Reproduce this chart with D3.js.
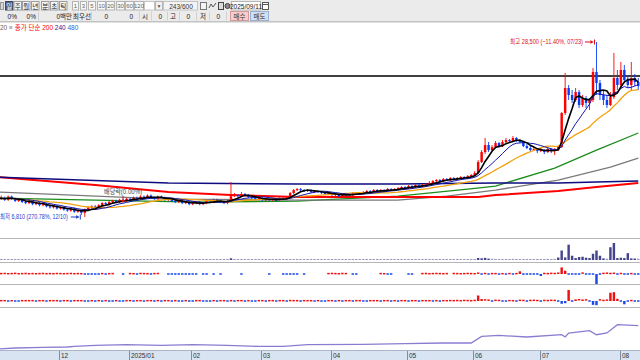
<!DOCTYPE html>
<html>
<head>
<meta charset="utf-8">
<script src="https://cdn.jsdelivr.net/npm/d3@7"></script>
<style>
body { margin: 0; background: #fff; overflow: hidden; }
svg { display: block; }
text { font-family: "Liberation Sans", "Noto Sans CJK KR", sans-serif; }
</style>
</head>
<body>
<div id="vis"></div>
<script>
// daily candles, Nov 2024 .. Aug 2025 (won)
const opens = [
  8940,9070,9200,8940,9340,9070,8800,8940,8670,8530,
  8800,8400,8530,8270,8400,8130,8000,8130,7860,8000,
  7730,7600,7860,7460,7600,7330,7730,8000,8130,8000,
  8270,8530,8400,8670,8800,8670,8940,8800,9070,8940,
  9200,9070,9340,9200,9470,9200,9070,9340,9200,8940,
  9070,8800,8670,8800,8530,8670,8400,8530,8670,8400,
  8530,8800,8670,8940,8800,8670,8530,8800,9400,9530,
  9400,9650,9530,9280,9160,9030,9160,8910,9030,8910,
  9030,8910,9160,9030,9280,9780,10150,10270,10150,10020,
  10150,9900,10020,9900,9780,9650,9780,9530,9650,9400,
  9530,9650,9530,9780,9650,9780,9900,10020,9900,10150,
  10020,10150,10020,10270,10150,10270,10400,10520,10400,10640,
  10520,10770,10640,10770,10890,11020,11260,11390,11260,11510,
  11390,11640,11510,11640,11760,11640,11880,12010,12260,13620,
  14860,15730,15110,15480,15980,15600,16100,16350,16220,16600,
  16350,16100,15600,15360,15110,15230,14980,15110,14860,15230,
  14980,15110,15480,19700,22800,21930,21310,22300,20690,21560,
  20940,21310,24780,23420,21930,21310,20690,21680,24040,23170,
  25030,23790,23170,24040,23540
]
const highs = [
  9340,9470,9340,9470,9470,9200,9070,9070,8800,8940,
  8940,8670,8670,8530,8530,8270,8270,8270,8130,8130,
  7860,8000,8000,7730,7730,7860,8130,8270,8270,8400,
  8670,8670,8800,8940,8940,9070,9070,9200,9200,9340,
  9340,9470,9470,9610,9610,9340,9470,9470,9340,9200,
  9200,8940,8940,8940,8800,8800,8670,8800,8800,8670,
  8940,8940,9070,9070,8940,8800,8940,11140,9780,9650,
  9900,9780,9650,9400,9280,9280,9280,9160,9160,9160,
  9160,9280,9280,9400,9900,10270,10400,10400,10270,10270,
  10270,10150,10150,10020,9900,9900,9900,9780,9780,9650,
  9780,9780,9900,9900,9900,10020,10150,10150,10270,10270,
  10270,10270,10400,10400,10400,10520,10640,10640,10770,10770,
  10890,10890,10890,11020,11260,11390,11510,11510,11640,11640,
  11760,11760,11760,11880,11880,12010,12130,12500,13870,15110,
  16600,16100,15730,16220,16100,16350,16600,16470,16840,16720,
  16470,16220,15850,15600,15480,15360,15360,15230,15480,15360,
  15360,15600,19820,24660,23170,22550,22800,22550,21930,21800,
  21560,25280,28500,23790,22550,21930,22300,27140,25030,26020,
  25650,24410,26020,24530,24040
]
const lows = [
  8800,8940,8800,8800,8940,8670,8670,8530,8400,8400,
  8270,8270,8130,8130,8000,7860,7860,7730,7730,7600,
  7460,7460,7330,7330,7060,6810,7600,7860,7730,7860,
  8130,8270,8270,8530,8530,8530,8670,8670,8800,8800,
  8940,8940,9070,9070,9070,8940,8940,9070,8800,8800,
  8670,8530,8530,8400,8400,8270,8270,8400,8270,8270,
  8400,8530,8530,8670,8530,8400,8400,8660,9280,9160,
  9280,9400,9160,9030,8910,8910,8780,8780,8780,8780,
  8780,8780,8910,8910,9160,9650,10020,10020,9900,9900,
  9780,9780,9780,9650,9530,9530,9400,9400,9280,9280,
  9400,9400,9400,9530,9530,9650,9780,9780,9780,9900,
  9900,9900,9900,10020,10020,10150,10270,10270,10270,10400,
  10400,10520,10520,10640,10770,10890,11140,11140,11140,11260,
  11260,11390,11390,11510,11510,11510,11760,11880,12130,13500,
  14610,14860,14980,15360,15360,15480,15850,15980,16100,16100,
  15980,15480,15230,14860,14980,14740,14860,14610,14740,14740,
  14490,14980,15360,19450,21310,20940,21060,20320,20440,20320,
  20070,21060,21930,21310,20690,20320,20560,21430,22550,22800,
  23540,22800,22550,23040,22550
]
const closes = [
  9070,9200,8940,9340,9070,8800,8940,8670,8530,8800,
  8400,8530,8270,8400,8130,8000,8130,7860,8000,7730,
  7600,7860,7460,7600,7330,7730,8000,8130,8000,8270,
  8530,8400,8670,8800,8670,8940,8800,9070,8940,9200,
  9070,9340,9200,9470,9200,9070,9340,9200,8940,9070,
  8800,8670,8800,8530,8670,8400,8530,8670,8400,8530,
  8800,8670,8940,8800,8670,8530,8800,9400,9530,9400,
  9650,9530,9280,9160,9030,9160,8910,9030,8910,9030,
  8910,9160,9030,9280,9780,10150,10270,10150,10020,10150,
  9900,10020,9900,9780,9650,9780,9530,9650,9400,9530,
  9650,9530,9780,9650,9780,9900,10020,9900,10150,10020,
  10150,10020,10270,10150,10270,10400,10520,10400,10640,10520,
  10770,10640,10770,10890,11020,11260,11390,11260,11510,11390,
  11640,11510,11640,11760,11640,11880,12010,12260,13620,14860,
  15730,15110,15480,15980,15600,16100,16350,16220,16600,16350,
  16100,15600,15360,15110,15230,14980,15110,14860,15230,14980,
  15110,15480,19700,22800,21930,21310,22300,20690,21560,20940,
  21310,24780,23420,21930,21310,20690,21680,24040,23170,25030,
  23790,23170,24040,23540,23040
]
// volume, thousand shares
const volumes = [
  210,180,160,230,190,170,150,200,180,160,
  170,190,150,160,210,180,170,160,190,220,
  200,180,230,190,260,380,250,200,180,170,
  190,160,150,170,180,160,200,170,150,160,
  180,170,160,190,170,150,160,180,170,160,
  150,170,160,150,180,160,170,150,160,170,
  160,150,170,180,160,150,170,520,260,200,
  180,160,150,170,160,150,140,160,150,170,
  160,150,170,190,280,250,220,180,170,160,
  150,160,170,150,160,140,150,160,150,140,
  150,160,140,150,160,150,170,160,150,160,
  170,160,150,160,170,180,170,160,190,180,
  200,210,230,350,320,280,260,240,250,220,
  230,220,210,240,230,260,250,300,600,520,
  650,420,360,330,300,280,310,290,340,320,
  300,290,260,250,240,230,250,260,320,300,
  340,760,2900,800,4700,1300,600,900,1000,700,
  600,1900,2900,1300,500,400,3900,5200,600,700,
  600,2100,500,450,400
]
// net buying indicator (third pane), null = no trade data
const netA = [
  null,4,5,3,4,6,3,4,5,3,
  4,3,4,5,3,4,3,5,4,3,
  4,5,3,4,3,-4,-3,-5,-3,-3,
  4,-4,3,4,null,null,-4,null,4,3,
  -4,5,4,3,-3,4,5,null,null,-3,
  -4,-3,-4,-3,-4,-3,-3,-4,null,-3,
  -4,null,-3,null,-4,null,null,null,null,null,
  -3,null,null,null,null,null,null,null,-4,null,
  null,null,-3,-4,-3,-4,-3,null,-3,null,
  null,null,null,null,null,4,5,4,3,5,
  4,null,-3,-4,null,null,null,null,null,null,
  4,3,-3,-4,null,null,null,null,-3,-4,
  null,null,4,5,3,4,5,4,3,4,
  null,5,4,3,4,5,4,3,8,-4,
  5,-3,4,4,-4,3,-3,4,-3,4,
  27,-4,-3,-5,-3,-4,-20,5,4,6,
  5,8,66,33,-8,-10,-8,-12,9,-10,
  -12,-6,-100,-8,6,8,5,7,-6,5,
  -5,-7,4,-6,-5
]
// program trading indicator (fourth pane)
const netB = [
  -3,3,3,-3,3,-3,-3,3,3,3,
  3,-3,3,3,-3,3,3,3,-3,3,
  3,-3,3,3,3,-3,-3,3,-3,3,
  -3,3,-3,-3,3,-3,-3,3,3,-3,
  3,3,-3,3,3,-3,3,-3,3,3,
  -3,3,-3,-3,3,-3,-3,3,3,-3,
  -3,-3,3,-3,3,3,-3,3,-3,3,
  3,-3,3,-3,-3,3,3,-3,3,3,
  -3,3,3,-3,4,3,3,-3,3,3,
  3,-3,3,-3,-3,3,3,-3,3,-3,
  3,3,-3,3,3,-3,-3,3,3,3,
  -3,3,3,-3,3,-3,3,3,-3,3,
  3,-3,3,3,3,-3,3,-3,3,3,
  4,3,4,3,5,4,3,5,50,18,
  10,8,-5,6,5,-4,-6,4,3,-5,
  6,5,-4,5,6,4,-5,5,4,6,
  5,-8,-25,-20,100,-10,15,12,14,10,
  -8,-35,-38,10,5,8,75,80,20,-6,
  -30,-10,4,-12,-8
]
// cumulative line in the bottom pane: [bar index, value]
const obvPts = [
  [0,0],[5,1000],[13,1600],[20,2000],[22,2600],[28,3600],[37,4300],[47,3600],
  [56,4300],[66,3600],[75,2600],[82,2600],[89,4300],[105,4600],[117,5300],
  [128,6000],[136,6000],[139,12600],[144,13600],[152,12000],[162,14300],
  [163,12000],[164,16000],[170,18300],[172,14300],[175,16000],[178,24300],[184,23300]
]
// long moving averages: [bar index, price]
const ma60Pts = [[0,9160],[28,8910],[57,8660],[86,8780],[115,9400],[135,10270],[143,10640],[160,12880],[172,15110],[184,17220]]
const ma120Pts = [[0,9900],[49,9030],[86,8910],[115,8910],[129,9400],[143,10150],[161,11390],[176,13000],[184,14120]]
const ma200Pts = [[0,11760],[28,10770],[49,9900],[67,9530],[86,9280],[115,9280],[138,9280],[143,9530],[161,10020],[172,10520],[184,11020]]
const ma240Pts = [[0,11760],[49,11020],[86,10890],[115,10890],[143,11020],[161,11020],[172,11140],[184,11260]]

const monthStarts = [18, 38, 56, 76, 96, 118, 137, 156, 179]
const monthLabels = ["12", "2025/01", "02", "03", "04", "05", "06", "07", "08"]

const lastPrice = 25250
const refLinePrice = 24280
const maxDate = "07/23"
const minDate = "12/10"
const exDivIdx = 36
const exDivText = "배당락(0.00%)"

const periodBtns = ["일", "주", "월", "년", "분", "초", "틱"]
const numBtns = ["1", "3", "5", "10", "20", "30", "60", "120"]

const width = 640, height = 360
const N = closes.length

let svg = d3.select("#vis").append("svg")
    .attr("width", width)
    .attr("height", height)

svg.append("rect").attr("width", width).attr("height", height).attr("fill", "#fff")

// ---------- toolbar ----------
let bar = svg.append("g")
bar.append("rect").attr("width", width).attr("height", 22).attr("fill", "#ebebeb")
bar.append("line").attr("x1", 0).attr("x2", width).attr("y1", 21.5).attr("y2", 21.5).attr("stroke", "#c2c2c2")
bar.append("line").attr("x1", 0).attr("x2", width).attr("y1", 22.5).attr("y2", 22.5).attr("stroke", "#e2e2e2")

// little icon at far left
bar.append("rect").attr("x", 0.5).attr("y", 2.5).attr("width", 3).attr("height", 7).attr("fill", "#d8d8d8").attr("stroke", "#999")

let periodX = [5, 13.5, 22, 31, 41, 50, 59]
periodBtns.forEach((t, i) => {
    let sel = i === 0
    bar.append("rect").attr("x", periodX[i] + 0.5).attr("y", 1.5).attr("width", 7.5).attr("height", 8.5)
        .attr("fill", sel ? "#55627e" : "#f6f6f6").attr("stroke", sel ? "#3c4660" : "#9c9c9c")
    bar.append("text").attr("x", periodX[i] + 4.3).attr("y", 8.6).attr("text-anchor", "middle")
        .style("font-size", "6.5px").attr("fill", sel ? "#fff" : "#222").text(t)
})

let numX = [72, 80, 88, 97, 106, 116, 125, 134]
let numW = [6, 6, 7, 8, 8, 8, 8, 9]
numBtns.forEach((t, i) => {
    bar.append("rect").attr("x", numX[i] + 0.5).attr("y", 1.5).attr("width", numW[i]).attr("height", 8.5)
        .attr("fill", "#f7f7f7").attr("stroke", "#b4b4b4")
    bar.append("text").attr("x", numX[i] + 0.5 + numW[i] / 2).attr("y", 8.4).attr("text-anchor", "middle")
        .style("font-size", "6px").attr("fill", "#666").text(t)
})
bar.append("rect").attr("x", 144.5).attr("y", 1.5).attr("width", 10).attr("height", 8.5).attr("fill", "#fff").attr("stroke", "#c4c4c4")
bar.append("rect").attr("x", 155.5).attr("y", 1.5).attr("width", 7).attr("height", 8.5).attr("fill", "#f2f2f2").attr("stroke", "#b4b4b4")
bar.append("text").attr("x", 159).attr("y", 8).attr("text-anchor", "middle").style("font-size", "5px").attr("fill", "#555").text("▼")
bar.append("rect").attr("x", 163.5).attr("y", 1.5).attr("width", 34).attr("height", 8.5).attr("fill", "#f4f4f4").attr("stroke", "#c4c4c4")
bar.append("text").attr("x", 181).attr("y", 8.5).attr("text-anchor", "middle").style("font-size", "6.5px").attr("fill", "#333").text("243/600")
// small tool icons
bar.append("rect").attr("x", 200.5).attr("y", 2.5).attr("width", 6).attr("height", 7).attr("fill", "#f4f4f4").attr("stroke", "#777")
bar.append("path").attr("d", "M209,8 L211,4 L213,7 L216,3").attr("fill", "none").attr("stroke", "#555")
bar.append("rect").attr("x", 218.5).attr("y", 2.5).attr("width", 5).attr("height", 7).attr("fill", "#ddd").attr("stroke", "#444")
bar.append("circle").attr("cx", 227.5).attr("cy", 6).attr("r", 2.5).attr("fill", "#888").attr("stroke", "#444")
bar.append("rect").attr("x", 231.5).attr("y", 1.5).attr("width", 29).attr("height", 8.5).attr("fill", "#fff").attr("stroke", "#b4b4b4")
bar.append("text").attr("x", 246).attr("y", 8.5).attr("text-anchor", "middle").style("font-size", "6.5px").attr("fill", "#222").text("2025/09/11")
bar.append("rect").attr("x", 262.5).attr("y", 2.5).attr("width", 6).attr("height", 7).attr("fill", "#fff").attr("stroke", "#555")
bar.append("line").attr("x1", 262.5).attr("x2", 268.5).attr("y1", 4.5).attr("y2", 4.5).attr("stroke", "#555")

// second toolbar row
let row2 = [
    { t: "0%", x: 17, a: "end" }, { t: "0%", x: 36, a: "end" }, { t: "0백만", x: 72, a: "end" },
    { t: "최우선", x: 82, a: "middle" }, { t: "0", x: 108, a: "end" }, { t: "0", x: 133, a: "end" },
    { t: "시", x: 145, a: "middle" }, { t: "0", x: 162, a: "end" }, { t: "고", x: 173, a: "middle" },
    { t: "0", x: 190, a: "end" }, { t: "저", x: 203, a: "middle" }, { t: "0", x: 220, a: "end" }
]
;[38.5, 73.5, 91.5, 139.5, 151.5, 167.5, 179.5, 196.5, 209.5, 226.5].forEach(sx => {
    bar.append("line").attr("x1", sx).attr("x2", sx).attr("y1", 11.5).attr("y2", 20.5).attr("stroke", "#d2d2d2")
})
row2.forEach(d => {
    bar.append("text").attr("x", d.x).attr("y", 18.5).attr("text-anchor", d.a)
        .style("font-size", "6.5px").attr("fill", "#222").text(d.t)
})
bar.append("rect").attr("x", 230.5).attr("y", 11.5).attr("width", 18).attr("height", 9).attr("fill", "#f6cccc").attr("stroke", "#d49a9a")
bar.append("text").attr("x", 239.5).attr("y", 18.6).attr("text-anchor", "middle").style("font-size", "6.5px").attr("fill", "#333").text("매수")
bar.append("rect").attr("x", 250.5).attr("y", 11.5).attr("width", 18).attr("height", 9).attr("fill", "#cfdff4").attr("stroke", "#98afd2")
bar.append("text").attr("x", 259.5).attr("y", 18.6).attr("text-anchor", "middle").style("font-size", "6.5px").attr("fill", "#333").text("매도")

// legend line
let legend = svg.append("text").attr("x", 0).attr("y", 29.5).style("font-size", "6.5px")
legend.append("tspan").attr("fill", "#666").text("20 ")
legend.append("tspan").attr("fill", "#888").text("≡ ")
legend.append("tspan").attr("fill", "#ff0000").text("종가 단순 200 ")
legend.append("tspan").attr("fill", "#1c1c9c").text("240 ")
legend.append("tspan").attr("fill", "#3a5ad8").text("480")

// ---------- scales ----------
const step = 3.481
const x = d3.scaleBand()
    .domain(d3.range(N))
    .range([-3.46, -3.46 + step * (N - 0.3)])
    .paddingInner(0.3)
    .paddingOuter(0)
const cx = i => x(i) + x.bandwidth() / 2

const y = d3.scaleLinear().domain([6810, 28500]).range([217, 42])
const vy = d3.scaleLinear().domain([0, 5200]).range([260, 243])
const ay = d3.scaleLinear().domain([-100, 100]).range([284, 264])
const by = d3.scaleLinear().domain([-100, 100]).range([312, 290])
const oy = d3.scaleLinear().domain([0, 25000]).range([349, 324])

// ---------- price pane ----------
svg.append("clipPath").attr("id", "clipMain")
    .append("rect").attr("x", 0).attr("y", 31).attr("width", width).attr("height", 206)
let main = svg.append("g").attr("clip-path", "url(#clipMain)")

function sma(arr, n) {
    return arr.map((d, i) => d3.mean(arr.slice(Math.max(0, i - n + 1), i + 1)))
}

let ptLine = d3.line().x(d => cx(d[0])).y(d => y(d[1]))
let longMAs = [
    { pts: ma60Pts, color: "#1a8c1a", w: 1.3 },
    { pts: ma120Pts, color: "#7a7a7a", w: 1.3 },
    { pts: ma200Pts, color: "#ff0000", w: 2 },
    { pts: ma240Pts, color: "#0c0c80", w: 1.5 }
]
longMAs.forEach(m => {
    main.append("path").attr("d", ptLine(m.pts)).attr("fill", "none")
        .attr("stroke", m.color).attr("stroke-width", m.w)
})

// reference line
main.append("line").attr("x1", 0).attr("x2", width)
    .attr("y1", y(refLinePrice)).attr("y2", y(refLinePrice))
    .attr("stroke", "#000").attr("stroke-width", 1.5)

// candles
const upColor = "#ff0000", downColor = "#0a3cf5"
let candles = main.append("g").selectAll("g").data(d3.range(N)).join("g")
candles.append("line")
    .attr("x1", i => cx(i)).attr("x2", i => cx(i))
    .attr("y1", i => y(highs[i])).attr("y2", i => y(lows[i]))
    .attr("stroke", i => closes[i] >= opens[i] ? upColor : downColor)
    .attr("stroke-width", 0.9)
candles.append("rect")
    .attr("x", i => x(i))
    .attr("width", x.bandwidth())
    .attr("y", i => Math.min(y(opens[i]), y(closes[i])))
    .attr("height", i => Math.max(1, Math.abs(y(opens[i]) - y(closes[i]))))
    .attr("fill", i => closes[i] >= opens[i] ? upColor : downColor)

// short moving averages from the closes
let idxLine = d3.line().x((d, i) => cx(i)).y(d => y(d))
let shortMAs = [
    { n: 20, color: "#f2a20c", w: 1.3 },
    { n: 10, color: "#1515b0", w: 1 },
    { n: 5, color: "#000000", w: 1.6 }
]
shortMAs.forEach(m => {
    main.append("path").attr("d", idxLine(sma(closes, m.n))).attr("fill", "none")
        .attr("stroke", m.color).attr("stroke-width", m.w)
})

// max / min annotations
let fmt = d3.format(",")
let pct = d3.format(".2f")
let iMax = d3.maxIndex(highs), iMin = d3.minIndex(lows)
let maxTxt = "최고 " + fmt(highs[iMax]) + " (" + pct((lastPrice / highs[iMax] - 1) * 100) + "%, " + maxDate + ")"
let minTxt = "최저 " + fmt(lows[iMin]) + " (" + pct((lastPrice / lows[iMin] - 1) * 100) + "%, " + minDate + ")"

function arrowTo(g, xEnd, yy, color) {
    g.append("line").attr("x1", xEnd - 9).attr("x2", xEnd - 1).attr("y1", yy).attr("y2", yy).attr("stroke", color)
    g.append("path").attr("d", `M${xEnd - 1},${yy} l-2.5,-2 l0,4 z`).attr("fill", color)
    g.append("line").attr("x1", xEnd + 0.5).attr("x2", xEnd + 0.5).attr("y1", yy - 2.5).attr("y2", yy + 2.5).attr("stroke", color)
}
let ann = svg.append("g")
let mxX = cx(iMax) - 2.5, mxY = y(highs[iMax])
ann.append("text").attr("x", mxX - 11).attr("y", mxY + 2.4).attr("text-anchor", "end")
    .style("font-size", "7px").attr("fill", "#e01010")
    .attr("textLength", 73).attr("lengthAdjust", "spacingAndGlyphs").text(maxTxt)
arrowTo(ann, mxX, mxY, "#e01010")

let mnX = cx(iMin) - 5, mnY = y(lows[iMin])
ann.append("text").attr("x", 0).attr("y", mnY + 2.4)
    .style("font-size", "7px").attr("fill", "#1c3cd0")
    .attr("textLength", mnX - 12).attr("lengthAdjust", "spacingAndGlyphs").text(minTxt)
arrowTo(ann, mnX, mnY, "#1c3cd0")

// ex-dividend marker
ann.append("text").attr("x", cx(exDivIdx)).attr("y", 194).attr("text-anchor", "middle")
    .style("font-size", "7px").attr("fill", "#444")
    .attr("textLength", 38).attr("lengthAdjust", "spacingAndGlyphs").text(exDivText)
ann.append("line").attr("x1", cx(exDivIdx)).attr("x2", cx(exDivIdx))
    .attr("y1", 196).attr("y2", 201).attr("stroke", "#e01010")
ann.append("path").attr("d", `M${cx(exDivIdx)},${203} l-2,-3 l4,0 z`).attr("fill", "#e01010")

// ---------- pane separators ----------
;[238, 262, 284, 307].forEach(sy => {
    svg.append("line").attr("x1", 0).attr("x2", width).attr("y1", sy + 0.5).attr("y2", sy + 0.5)
        .attr("stroke", "#b6b6b6").attr("stroke-width", 1.2)
})

// volume pane
svg.append("g").selectAll("rect").data(volumes).join("rect")
    .attr("x", (d, i) => x(i))
    .attr("width", x.bandwidth())
    .attr("y", d => Math.min(vy(d), vy(0) - 1))
    .attr("height", d => Math.max(1, vy(0) - vy(d)))
    .attr("fill", "#44448e")
    .attr("opacity", d => d > 400 ? 1 : 0.55)

// third pane
svg.append("g").selectAll("rect").data(netA.map((v, i) => ({ v, i })).filter(d => d.v !== null)).join("rect")
    .attr("x", d => x(d.i))
    .attr("width", x.bandwidth())
    .attr("y", d => Math.min(ay(d.v), ay(0)) - (Math.abs(ay(d.v) - ay(0)) < 1.5 ? 0.75 : 0))
    .attr("height", d => Math.max(1.5, Math.abs(ay(d.v) - ay(0))))
    .attr("fill", d => d.v > 0 ? "#ee1111" : "#1848e8")

// fourth pane
svg.append("g").selectAll("rect").data(netB).join("rect")
    .attr("x", (d, i) => x(i))
    .attr("width", x.bandwidth())
    .attr("y", d => Math.min(by(d), by(0)) - (Math.abs(by(d) - by(0)) < 1.5 ? 0.75 : 0))
    .attr("height", d => Math.max(1.5, Math.abs(by(d) - by(0))))
    .attr("fill", d => d > 0 ? "#ee1111" : "#1848e8")

// bottom line pane
svg.append("path")
    .attr("d", d3.line().x(d => cx(d[0])).y(d => oy(d[1]))(obvPts))
    .attr("fill", "none").attr("stroke", "#8a7cd2").attr("stroke-width", 1.3)

// ---------- date axis ----------
let axis = svg.append("g")
axis.append("rect").attr("x", 0).attr("y", 350).attr("width", width).attr("height", 10).attr("fill", "#d8e4f1")
axis.append("line").attr("x1", 0).attr("x2", width).attr("y1", 350.5).attr("y2", 350.5).attr("stroke", "#a9b6c6")
monthStarts.forEach((m, k) => {
    let mx = Math.round(x(m)) + 0.5
    axis.append("line").attr("x1", mx).attr("x2", mx).attr("y1", 351).attr("y2", 360).attr("stroke", "#7e8ea2")
    axis.append("text").attr("x", mx + 1.5).attr("y", 357.8).style("font-size", "6.5px").attr("fill", "#333").text(monthLabels[k])
})
</script>
</body>
</html>
